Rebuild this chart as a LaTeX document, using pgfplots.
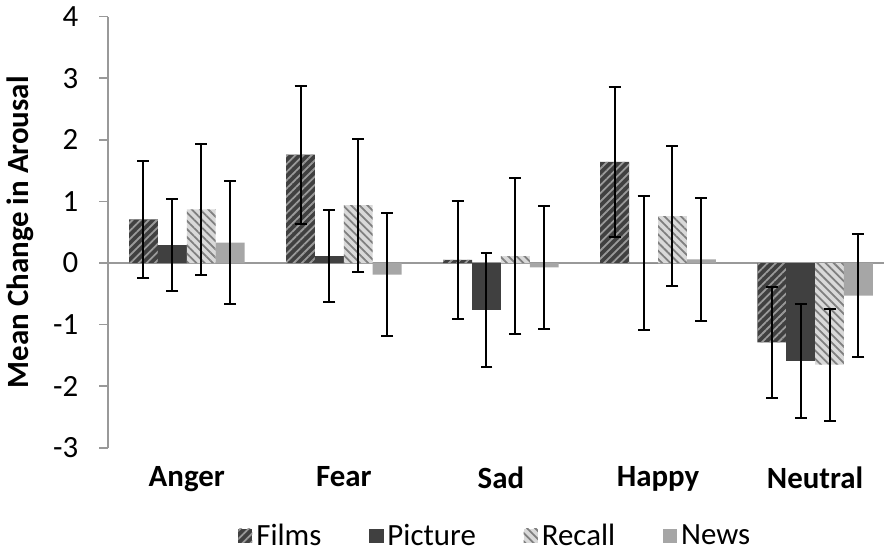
\documentclass[border=0pt]{standalone}
\usepackage{pgfplots}
\pgfplotsset{compat=1.18}
\usepackage{fontspec}
\setmainfont{Carlito}
\usetikzlibrary{patterns.meta}
\definecolor{dark}{HTML}{404040}
\definecolor{mid}{HTML}{A6A6A6}
\definecolor{light}{HTML}{D9D9D9}
\definecolor{stripeA}{HTML}{9A9A9A}
\definecolor{stripeB}{HTML}{7F7F7F}
\begin{document}
\begin{tikzpicture}
\begin{axis}[
  scale only axis,
  width=389.5pt, height=216.5pt,
  ybar=0pt, bar width=14.5pt,
  xmin=-0.5, xmax=4.44,
  ymin=-3, ymax=4,
  ytick={-3,-2,-1,0,1,2,3,4},
  yticklabels={-3,-2,-1,0,1,2,3,4},
  xtick={0,1,2,3,4},
  xticklabels={Anger,Fear,Sad,Happy,Neutral},
  xticklabel style={font=\fontsize{15.5}{18}\selectfont\bfseries, yshift=-1.5pt},
  yticklabel style={font=\fontsize{15.5}{18}\selectfont, xshift=-7pt},
  axis x line*=bottom, axis y line*=left,
  x axis line style={draw=none},
  y axis line style={draw=gray!80, line width=0.8pt},
  xtick style={draw=none},
  ytick style={draw=gray!80, line width=0.8pt},
  tick align=outside, major tick length=4.5pt,
  ylabel={\bfseries Mean Change in Arousal},
  ylabel style={font=\fontsize{15.5}{18}\selectfont, yshift=3pt},
  legend style={at={(0.5,-0.158)}, anchor=north, draw=none, legend columns=4,
    font=\fontsize{15.5}{18}\selectfont, /tikz/every even column/.append style={column sep=22pt}},
  legend image code/.code={\draw[#1, draw=none] (-0.04cm,-0.11cm) rectangle (0.21cm,0.14cm);},
  error bars/y dir=both, error bars/y explicit,
  error bars/error mark options={black, line width=1pt, mark size=3pt, rotate=90},
  error bars/error bar style={black, line width=1pt},
  clip=false,
]
\draw[gray!80, line width=0.8pt] (axis cs:-0.5,0) -- (axis cs:4.44,0);
\addplot[fill=dark, draw=none, postaction={pattern={Lines[angle=45,distance=2.9pt,line width=0.9pt]}, pattern color=stripeA}]
  coordinates {(0,0.71) +- (0,0.95) (1,1.76) +- (0,1.12) (2,0.05) +- (0,0.96) (3,1.64) +- (0,1.22) (4,-1.29) +- (0,0.90)};
\addplot[fill=dark, draw=none]
  coordinates {(0,0.29) +- (0,0.75) (1,0.11) +- (0,0.75) (2,-0.76) +- (0,0.93) (3,0.0) +- (0,1.09) (4,-1.59) +- (0,0.93)};
\addplot[fill=light, draw=none, postaction={pattern={Lines[angle=-45,distance=2.9pt,line width=0.9pt]}, pattern color=stripeB}]
  coordinates {(0,0.87) +- (0,1.06) (1,0.94) +- (0,1.08) (2,0.11) +- (0,1.27) (3,0.76) +- (0,1.14) (4,-1.65) +- (0,0.91)};
\addplot[fill=mid, draw=none]
  coordinates {(0,0.33) +- (0,1.0) (1,-0.19) +- (0,1.0) (2,-0.07) +- (0,1.0) (3,0.06) +- (0,1.0) (4,-0.53) +- (0,1.0)};
\legend{Films,Picture,Recall,News}
\end{axis}
\end{tikzpicture}
\end{document}
